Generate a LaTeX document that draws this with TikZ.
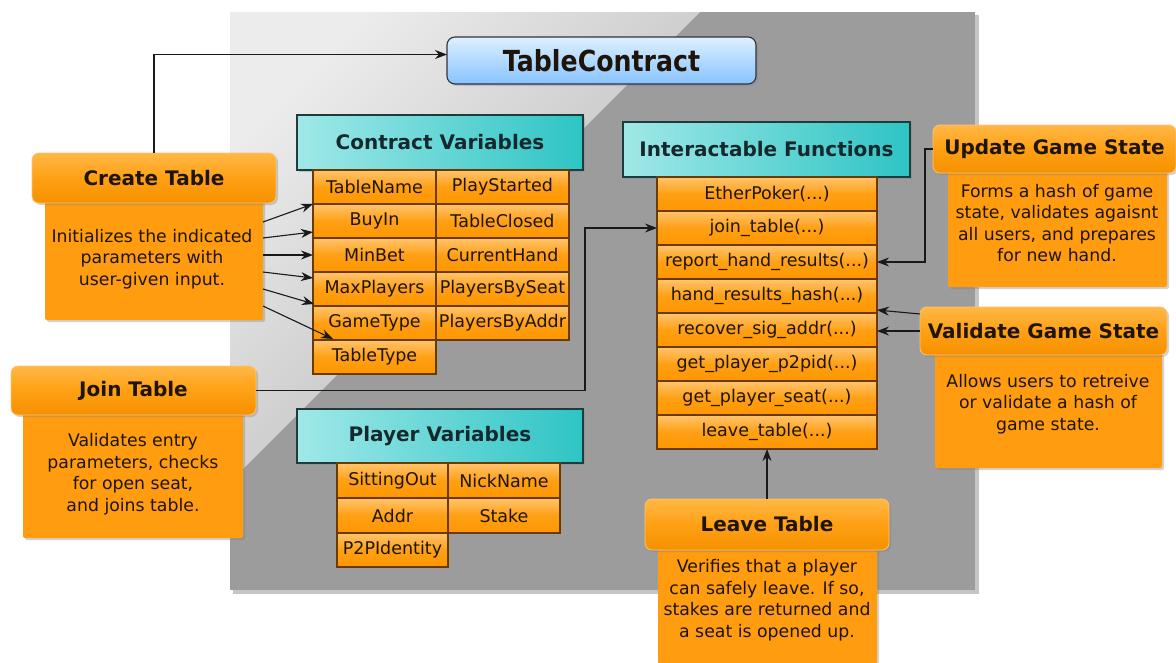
\documentclass[tikz,border=0pt]{standalone}
\usepackage{fontspec}
\setmainfont{DejaVu Sans}
\usetikzlibrary{shadows,calc,arrows.meta}
\definecolor{txt}{HTML}{1E1408}
\definecolor{cellborder}{HTML}{6B3A00}
\definecolor{panel}{HTML}{9C9C9C}
\definecolor{orbody}{HTML}{FF9C10}
\tikzset{
  cell/.style={draw=cellborder, line width=1.1pt, top color={rgb,255:red,255;green,196;blue,110}, bottom color={rgb,255:red,255;green,150;blue,0},
    middle color={rgb,255:red,255;green,160;blue,20}, inner sep=0pt, outer sep=0pt, anchor=north west,
    text=txt, font=\fontsize{17.5}{19}\selectfont},
  sechead/.style={draw={rgb,255:red,30;green,60;blue,60}, line width=1.1pt, left color={rgb,255:red,160;green,232;blue,232},
    right color={rgb,255:red,46;green,196;blue,196}, inner sep=0pt, outer sep=0pt, anchor=north west,
    text={rgb,255:red,20;green,40;blue,45}, font=\fontsize{20}{22}\selectfont\bfseries,
    drop shadow={shadow xshift=2pt, shadow yshift=-2pt, opacity=0.35}},
  ohead/.style={rounded corners=7pt, top color={rgb,255:red,255;green,184;blue,70}, bottom color={rgb,255:red,245;green,145;blue,0},
    middle color={rgb,255:red,255;green,160;blue,20}, draw={rgb,255:red,255;green,196;blue,110}, line width=0.8pt,
    inner sep=0pt, outer sep=0pt, anchor=north west, text=txt, font=\fontsize{20}{22}\selectfont\bfseries,
    drop shadow={shadow xshift=2pt, shadow yshift=-2pt, opacity=0.35}},
  obody/.style={fill=orbody, rounded corners=2pt, inner sep=0pt, outer sep=0pt, anchor=north west,
    drop shadow={shadow xshift=2pt, shadow yshift=-2pt, opacity=0.35}},
  btext/.style={text=txt, align=center, font=\fontsize{17.3}{21.5}\selectfont, inner sep=0pt},
  conn/.style={draw={rgb,255:red,25;green,25;blue,25}, line width=1.1pt},
  arr/.style={conn, -{Stealth[length=12pt,width=9pt]}},
}
\begin{document}
\begin{tikzpicture}[x=1pt,y=-1pt]
\useasboundingbox (0,0) rectangle (1176,662);
\fill[white] (0,0) rectangle (1176,662);
% panel
\fill[black!45, opacity=0.5] (233,15) rectangle (979,594);
\fill[panel] (230,12) rectangle (975,590);
\shade[top color={rgb,255:red,236;green,236;blue,236}, bottom color={rgb,255:red,178;green,178;blue,178}, shading angle=45]
  (230,12) -- (700,12) -- (230,482) -- cycle;

% TableContract
\node[rounded corners=8pt, draw={rgb,255:red,50;green,50;blue,60}, line width=1.1pt,
  top color={rgb,255:red,222;green,240;blue,255}, bottom color={rgb,255:red,135;green,195;blue,255},
  minimum width=309, minimum height=47, inner sep=0pt, outer sep=0pt, anchor=north west,
  drop shadow={shadow xshift=2pt, shadow yshift=-2pt, opacity=0.3}] (tc) at (447,37)
  {\scalebox{0.87}[1]{\fontsize{29}{30}\selectfont\bfseries\color{txt}TableContract}};

% Contract Variables
\node[sechead, minimum width=286, minimum height=55] (cvh) at (297,115) {Contract Variables};
\node[cell, minimum width=123, minimum height=34] (cv1) at (313,170) {TableName};
\node[cell, minimum width=123, minimum height=34] (cv2) at (313,204) {BuyIn};
\node[cell, minimum width=123, minimum height=34] (cv3) at (313,238) {MinBet};
\node[cell, minimum width=123, minimum height=34] (cv4) at (313,272) {MaxPlayers};
\node[cell, minimum width=123, minimum height=34] (cv5) at (313,306) {GameType};
\node[cell, minimum width=123, minimum height=34] (cv6) at (313,340) {TableType};
\node[cell, minimum width=133, minimum height=34] (cw1) at (436,170) {PlayStarted};
\node[cell, minimum width=133, minimum height=34] (cw2) at (436,204) {TableClosed};
\node[cell, minimum width=133, minimum height=34] (cw3) at (436,238) {CurrentHand};
\node[cell, minimum width=133, minimum height=34] (cw4) at (436,272) {PlayersBySeat};
\node[cell, minimum width=133, minimum height=34] (cw5) at (436,306) {PlayersByAddr};

% Player Variables
\node[sechead, minimum width=286, minimum height=54] (pvh) at (297,409) {Player Variables};
\node[cell, minimum width=111, minimum height=35] (pv1) at (337,463) {SittingOut};
\node[cell, minimum width=111, minimum height=35] (pv2) at (337,498) {Addr};
\node[cell, minimum width=111, minimum height=34] (pv3) at (337,533) {P2PIdentity};
\node[cell, minimum width=112, minimum height=35] (pw1) at (448,463) {NickName};
\node[cell, minimum width=112, minimum height=35] (pw2) at (448,498) {Stake};

% Interactable Functions
\node[sechead, minimum width=287, minimum height=55] (ifh) at (623,122) {Interactable Functions};
\node[cell, minimum width=220, minimum height=34] (f1) at (657,177) {EtherPoker(...)};
\node[cell, minimum width=220, minimum height=34] (f2) at (657,211) {join\_table(...)};
\node[cell, minimum width=220, minimum height=34] (f3) at (657,245) {report\_hand\_results(...)};
\node[cell, minimum width=220, minimum height=34] (f4) at (657,279) {hand\_results\_hash(...)};
\node[cell, minimum width=220, minimum height=34] (f5) at (657,313) {recover\_sig\_addr(...)};
\node[cell, minimum width=220, minimum height=34] (f6) at (657,347) {get\_player\_p2pid(...)};
\node[cell, minimum width=220, minimum height=34] (f7) at (657,381) {get\_player\_seat(...)};
\node[cell, minimum width=220, minimum height=34] (f8) at (657,415) {leave\_table(...)};

% Create Table
\node[obody, minimum width=218, minimum height=120] (ctb) at (45,200) {};
\node[ohead, minimum width=244, minimum height=50] (ct) at (32,153) {Create Table};
\node[btext] (ctt) at (152,259) {Initializes the indicated\\parameters with\\user-given input.};

% Join Table
\node[obody, minimum width=220, minimum height=125] (jtb) at (23,413) {};
\node[ohead, minimum width=245, minimum height=49] (jt) at (11,366) {Join Table};
\node[btext] (jtt) at (133,474) {Validates entry\\parameters, checks\\for open seat,\\and joins table.};

% Update Game State
\node[obody, minimum width=219, minimum height=116] (ugb) at (948,171) {};
\node[ohead, minimum width=243, minimum height=48] (ugs) at (933,125) {Update Game State};
\node[btext] (ugt) at (1057,223) {Forms a hash of game\\state, validates agaisnt\\all users, and prepares\\for new hand.};

% Validate Game State
\node[obody, minimum width=227, minimum height=115] (vgb) at (935,353) {};
\node[ohead, minimum width=247, minimum height=48] (vgs) at (920,307) {Validate Game State};
\node[btext] (vgt) at (1048,404) {Allows users to retreive\\or validate a hash of\\game state.};

% Leave Table
\node[obody, minimum width=219, minimum height=116] (ltb) at (658,548) {};
\node[ohead, minimum width=244, minimum height=51] (lt) at (645,499) {Leave Table};
\node[btext] (ltt) at (767,600) {Verifies that a player\\can safely leave. If so,\\stakes are returned and\\a seat is opened up.};

% connectors
\draw[arr] (ct.north) |- ($(tc.west)+(0,-6)$);
\draw[arr] ($(ctb.north east)+(0,22)$) -- (cv1.south west);
\draw[arr] ($(ctb.north east)+(0,38)$) -- ($(cv2.west)+(0,11)$);
\draw[arr] ($(ctb.north east)+(0,55)$) -- ($(cv3.west)+(0,0)$);
\draw[arr] ($(ctb.north east)+(0,72)$) -- ($(cv4.west)+(0,-11)$);
\draw[arr] ($(ctb.north east)+(0,89)$) -- ($(cv4.south west)+(1,-2)$);
\draw[arr] ($(ctb.north east)+(0,106)$) -- ($(cv5.south west)+(20,-1)$);
\draw[arr] (jt.east) -- ++(329,0) |- (f2.west);
\draw[arr] (ugs.west) -- ++(-8,0) |- (f3.east);
\draw[arr] ($(vgs.west)+(0,-17)$) -- ($(f4.south east)+(0,-3)$);
\draw[arr] (vgs.west) -- (vgs.west -| f5.east);
\draw[arr] (lt.north) -- (f8.south);
\end{tikzpicture}
\end{document}
